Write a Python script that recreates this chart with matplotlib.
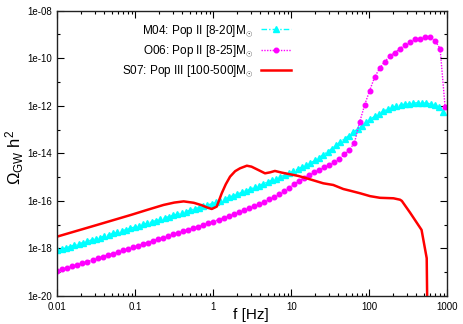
import numpy as np
import matplotlib
matplotlib.use("Agg")
import matplotlib.pyplot as plt
from matplotlib.ticker import FixedLocator, NullFormatter

plt.rcParams['font.family'] = ['Liberation Sans', 'DejaVu Sans']
plt.rcParams['mathtext.fontset'] = 'custom'
plt.rcParams['mathtext.rm'] = 'Liberation Sans'
plt.rcParams['mathtext.it'] = 'Liberation Sans:italic'

# ---- data (log10 f [Hz], log10 Omega h^2) ----
m04_logf = [-2.000, -1.945, -1.890, -1.835, -1.780, -1.725, -1.670, -1.615, -1.560, -1.505,
            -1.450, -1.395, -1.340, -1.285, -1.230, -1.175, -1.120, -1.065, -1.010, -0.955,
            -0.900, -0.845, -0.790, -0.735, -0.680, -0.625, -0.570, -0.515, -0.460, -0.405,
            -0.350, -0.295, -0.240, -0.185, -0.130, -0.075, -0.020, 0.035, 0.090, 0.145,
            0.200, 0.255, 0.310, 0.365, 0.420, 0.475, 0.530, 0.585, 0.640, 0.695,
            0.750, 0.805, 0.860, 0.915, 0.970, 1.025, 1.080, 1.135, 1.190, 1.245,
            1.300, 1.355, 1.410, 1.465, 1.520, 1.575, 1.630, 1.685, 1.740, 1.795,
            1.850, 1.905, 1.960, 2.015, 2.070, 2.125, 2.180, 2.235, 2.290, 2.345,
            2.400, 2.455, 2.510, 2.565, 2.620, 2.675, 2.730, 2.785, 2.840, 2.895,
            2.950]
m04_logomega = [-18.08, -18.03, -17.97, -17.92, -17.86, -17.81, -17.75, -17.70, -17.64, -17.59,
                -17.54, -17.48, -17.43, -17.37, -17.32, -17.26, -17.21, -17.15, -17.10, -17.04,
                -16.99, -16.94, -16.88, -16.83, -16.77, -16.72, -16.66, -16.61, -16.55, -16.50,
                -16.45, -16.39, -16.34, -16.28, -16.23, -16.17, -16.12, -16.06, -15.99, -15.92,
                -15.85, -15.78, -15.71, -15.64, -15.57, -15.50, -15.43, -15.36, -15.28, -15.21,
                -15.13, -15.06, -14.99, -14.91, -14.84, -14.76, -14.67, -14.58, -14.50, -14.41,
                -14.30, -14.18, -14.05, -13.93, -13.80, -13.66, -13.52, -13.38, -13.25, -13.11,
                -12.97, -12.84, -12.70, -12.56, -12.44, -12.33, -12.23, -12.14, -12.07, -12.01,
                -11.97, -11.93, -11.91, -11.89, -11.87, -11.87, -11.88, -11.92, -11.97, -12.07,
                -12.24]

o06_logf = [-2.000, -1.935, -1.871, -1.806, -1.742, -1.677, -1.613, -1.548, -1.483, -1.419,
            -1.354, -1.290, -1.225, -1.160, -1.096, -1.031, -0.967, -0.902, -0.838, -0.773,
            -0.708, -0.644, -0.579, -0.515, -0.450, -0.385, -0.321, -0.256, -0.192, -0.127,
            -0.063, 0.002, 0.067, 0.131, 0.196, 0.260, 0.325, 0.389, 0.454, 0.519,
            0.583, 0.648, 0.712, 0.777, 0.842, 0.906, 0.971, 1.035, 1.100, 1.164,
            1.229, 1.294, 1.358, 1.423, 1.487, 1.552, 1.616, 1.681, 1.746, 1.810,
            1.875, 1.939, 2.004, 2.068, 2.133, 2.198, 2.262, 2.327, 2.391, 2.456,
            2.520, 2.585, 2.650, 2.714, 2.779, 2.843, 2.908, 2.972]
o06_logomega = [-18.95, -18.88, -18.82, -18.75, -18.68, -18.62, -18.55, -18.48, -18.42, -18.35,
                -18.28, -18.22, -18.15, -18.08, -18.01, -17.95, -17.88, -17.81, -17.75, -17.68,
                -17.61, -17.55, -17.48, -17.41, -17.35, -17.28, -17.21, -17.15, -17.08, -17.01,
                -16.94, -16.87, -16.79, -16.72, -16.64, -16.56, -16.48, -16.39, -16.30, -16.21,
                -16.12, -16.03, -15.94, -15.84, -15.72, -15.59, -15.45, -15.31, -15.16, -15.02,
                -14.91, -14.80, -14.69, -14.58, -14.47, -14.36, -14.22, -14.04, -13.85, -13.55,
                -12.70, -11.98, -11.36, -10.80, -10.42, -10.14, -9.92, -9.76, -9.60, -9.44,
                -9.32, -9.20, -9.17, -9.09, -9.09, -9.26, -9.60, -12.06]

s07_logf = [-2.000, -1.500, -1.046, -0.850, -0.638, -0.500, -0.380, -0.250, -0.150, -0.085,
            -0.020, 0.044, 0.108, 0.160, 0.215, 0.280, 0.342, 0.430, 0.490, 0.577,
            0.663, 0.727, 0.790, 0.877, 0.983, 1.090, 1.197, 1.410, 1.538, 1.667,
            1.753, 1.883, 2.010, 2.137, 2.310, 2.394, 2.417, 2.524, 2.670, 2.736,
            2.745]
s07_logomega = [-17.50, -17.02, -16.58, -16.38, -16.17, -16.07, -16.02, -16.08, -16.18, -16.27,
                -16.34, -16.24, -15.68, -15.30, -14.98, -14.75, -14.63, -14.52, -14.56, -14.70,
                -14.84, -14.80, -14.74, -14.81, -14.88, -14.95, -15.05, -15.26, -15.33, -15.50,
                -15.57, -15.68, -15.80, -15.87, -15.89, -15.95, -16.00, -16.50, -17.22, -18.41,
                -21.00]

labels = [r'M04: Pop II [8-20]M$_{\odot}$',
          r'O06: Pop II [8-25]M$_{\odot}$',
          r'S07: Pop III [100-500]M$_{\odot}$']
xticks = [0.01, 0.1, 1, 10, 100, 1000]
xtick_labels = ['0.01', '0.1', '1', '10', '100', '1000']
yticks = [1e-20, 1e-18, 1e-16, 1e-14, 1e-12, 1e-10, 1e-8]
ytick_labels = ['1e-20', '1e-18', '1e-16', '1e-14', '1e-12', '1e-10', '1e-08']

W, H = 463, 324
fig = plt.figure(figsize=(W / 100, H / 100), dpi=100)
ax = fig.add_axes([57.3 / W, 1 - 296 / H, 390 / W, 285.3 / H])

def tolin(a):
    return np.power(10.0, np.asarray(a))

ax.plot(tolin(m04_logf), tolin(m04_logomega), color='#00ffff', lw=1.0,
        ls=(0, (4, 1.5, 1, 1.5)), marker='^', ms=4.6, mec='#00ffff', mfc='#00ffff',
        label=labels[0])
ax.plot(tolin(o06_logf), tolin(o06_logomega), color='#ff00ff', lw=1.0,
        ls=(0, (1, 1)), marker='o', ms=3.3, mec='#ff00ff', mfc='#ff00ff',
        label=labels[1])
ax.plot(tolin(s07_logf), tolin(s07_logomega), color='#ff0000', lw=1.8,
        label=labels[2])

ax.set_xscale('log')
ax.set_yscale('log')
ax.set_xlim(0.01, 1000)
ax.set_ylim(1e-20, 1e-8)

ax.xaxis.set_major_locator(FixedLocator(xticks))
ax.set_xticklabels(xtick_labels)
ax.xaxis.set_minor_locator(FixedLocator([m * 10.0 ** e for e in range(-2, 3) for m in range(2, 10)]))
ax.xaxis.set_minor_formatter(NullFormatter())
ax.yaxis.set_major_locator(FixedLocator(yticks))
ax.set_yticklabels(ytick_labels)
ax.yaxis.set_minor_locator(FixedLocator([10.0 ** e for e in range(-19, -8, 2)]))
ax.yaxis.set_minor_formatter(NullFormatter())

ax.tick_params(which='both', direction='in', top=True, right=True, labelsize=7, width=0.8)
ax.tick_params(which='major', length=5, pad=4)
ax.tick_params(which='minor', length=2.5)
for s in ax.spines.values():
    s.set_linewidth(1.0)
    s.set_color('#222222')

leg = ax.legend(loc='upper right', bbox_to_anchor=(0.612, 0.975), frameon=False,
                markerfirst=False, fontsize=8.5, handlelength=2.6, handletextpad=0.6,
                labelspacing=0.35, numpoints=1, borderaxespad=0)

fig.text(15 / W, 1 - 157 / H, r'Ω$_{\mathrm{GW}}$ h$^{2}$', rotation=90, fontsize=12,
         ha='center', va='center')
fig.text(251 / W, 1 - 308 / H, 'f [Hz]', fontsize=11, ha='center', va='top')

fig.savefig('out.png', dpi=100)
